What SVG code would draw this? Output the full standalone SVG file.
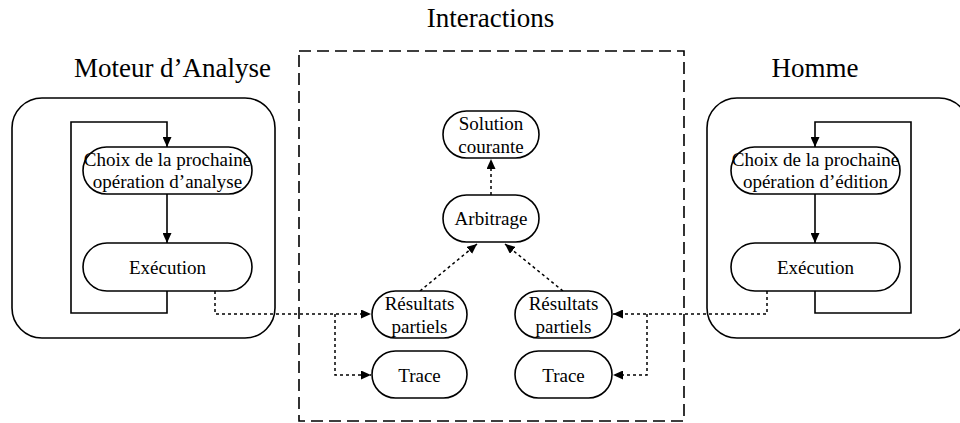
<svg xmlns="http://www.w3.org/2000/svg" width="960" height="423" viewBox="0 0 960 423">
<defs>
<style>
text{font-family:'Liberation Serif','Times New Roman',Tinos,'DejaVu Serif',serif;fill:#000;text-anchor:middle}
.title{font-size:27px}
.lbl{font-size:19px}
.node{fill:#fff;stroke:#000;stroke-width:1.6}
.box{fill:none;stroke:#000;stroke-width:1.6}
.solid{fill:none;stroke:#000;stroke-width:1.6}
.dot{fill:none;stroke:#000;stroke-width:1.5;stroke-dasharray:3 3}
.dash{fill:none;stroke:#000;stroke-width:1.6;stroke-dasharray:12 6}
</style>
<marker id="ah" markerUnits="userSpaceOnUse" markerWidth="10" markerHeight="9" refX="10" refY="4.5" orient="auto">
<path d="M0,0 L10,4.5 L0,9 z" fill="#000"/>
</marker>
</defs>
<rect width="960" height="423" fill="#fff"/>

<g id="titles">
<text class="title" x="490.5" y="27">Interactions</text>
<text class="title" x="172.5" y="77">Moteur d’Analyse</text>
<text class="title" x="815" y="77">Homme</text>
</g>

<g id="moteur-box"><rect class="box" x="12" y="98" width="263" height="240" rx="30"/></g>
<g id="homme-box"><rect class="box" x="707" y="98" width="262" height="240" rx="30"/></g>
<g id="interactions-box"><rect class="dash" x="299" y="51" width="385" height="370"/></g>

<g id="connectors">
<path class="solid" d="M167,291 V313 H71 V122 H167 V147" marker-end="url(#ah)"/>
<path class="solid" d="M167,194 V243" marker-end="url(#ah)"/>
<path class="solid" d="M815,291 V313 H911 V122 H815 V147" marker-end="url(#ah)"/>
<path class="solid" d="M815,194 V243" marker-end="url(#ah)"/>
<path class="dot" d="M215,291 V314 H371" marker-end="url(#ah)"/>
<path class="dot" d="M335,314 V375 H371" marker-end="url(#ah)"/>
<path class="dot" d="M767,291 V314 H613" marker-end="url(#ah)"/>
<path class="dot" d="M647,314 V375 H613" marker-end="url(#ah)"/>
<path class="dot" d="M491,195 V159" marker-end="url(#ah)"/>
<path class="dot" d="M420,291 L477,244" marker-end="url(#ah)"/>
<path class="dot" d="M563,291 L505,244" marker-end="url(#ah)"/>
</g>

<g id="choix-analyse">
<rect class="node" x="83" y="147" width="169" height="47" rx="23.5"/>
<text class="lbl" x="167.5" y="166">Choix de la prochaine</text>
<text class="lbl" x="167.5" y="188">opération d’analyse</text>
</g>
<g id="execution-analyse">
<rect class="node" x="83" y="243" width="169" height="48" rx="24"/>
<text class="lbl" x="167.5" y="274">Exécution</text>
</g>
<g id="choix-edition">
<rect class="node" x="731" y="147" width="169" height="47" rx="23.5"/>
<text class="lbl" x="815.5" y="166">Choix de la prochaine</text>
<text class="lbl" x="815.5" y="188">opération d’édition</text>
</g>
<g id="execution-edition">
<rect class="node" x="731" y="243" width="169" height="48" rx="24"/>
<text class="lbl" x="815.5" y="274">Exécution</text>
</g>
<g id="solution">
<rect class="node" x="443" y="111" width="96" height="47" rx="23.5"/>
<text class="lbl" x="491" y="130">Solution</text>
<text class="lbl" x="491" y="153">courante</text>
</g>
<g id="arbitrage">
<rect class="node" x="443" y="195" width="96" height="47" rx="23.5"/>
<text class="lbl" x="491" y="225">Arbitrage</text>
</g>
<g id="resultats-gauche">
<rect class="node" x="372" y="291" width="95" height="47" rx="23.5"/>
<text class="lbl" x="419.5" y="310">Résultats</text>
<text class="lbl" x="419.5" y="333">partiels</text>
</g>
<g id="trace-gauche">
<rect class="node" x="372" y="351" width="95" height="47" rx="23.5"/>
<text class="lbl" x="419.5" y="382">Trace</text>
</g>
<g id="resultats-droite">
<rect class="node" x="515" y="291" width="97" height="47" rx="23.5"/>
<text class="lbl" x="563.5" y="310">Résultats</text>
<text class="lbl" x="563.5" y="333">partiels</text>
</g>
<g id="trace-droite">
<rect class="node" x="515" y="351" width="97" height="47" rx="23.5"/>
<text class="lbl" x="563.5" y="382">Trace</text>
</g>
</svg>
